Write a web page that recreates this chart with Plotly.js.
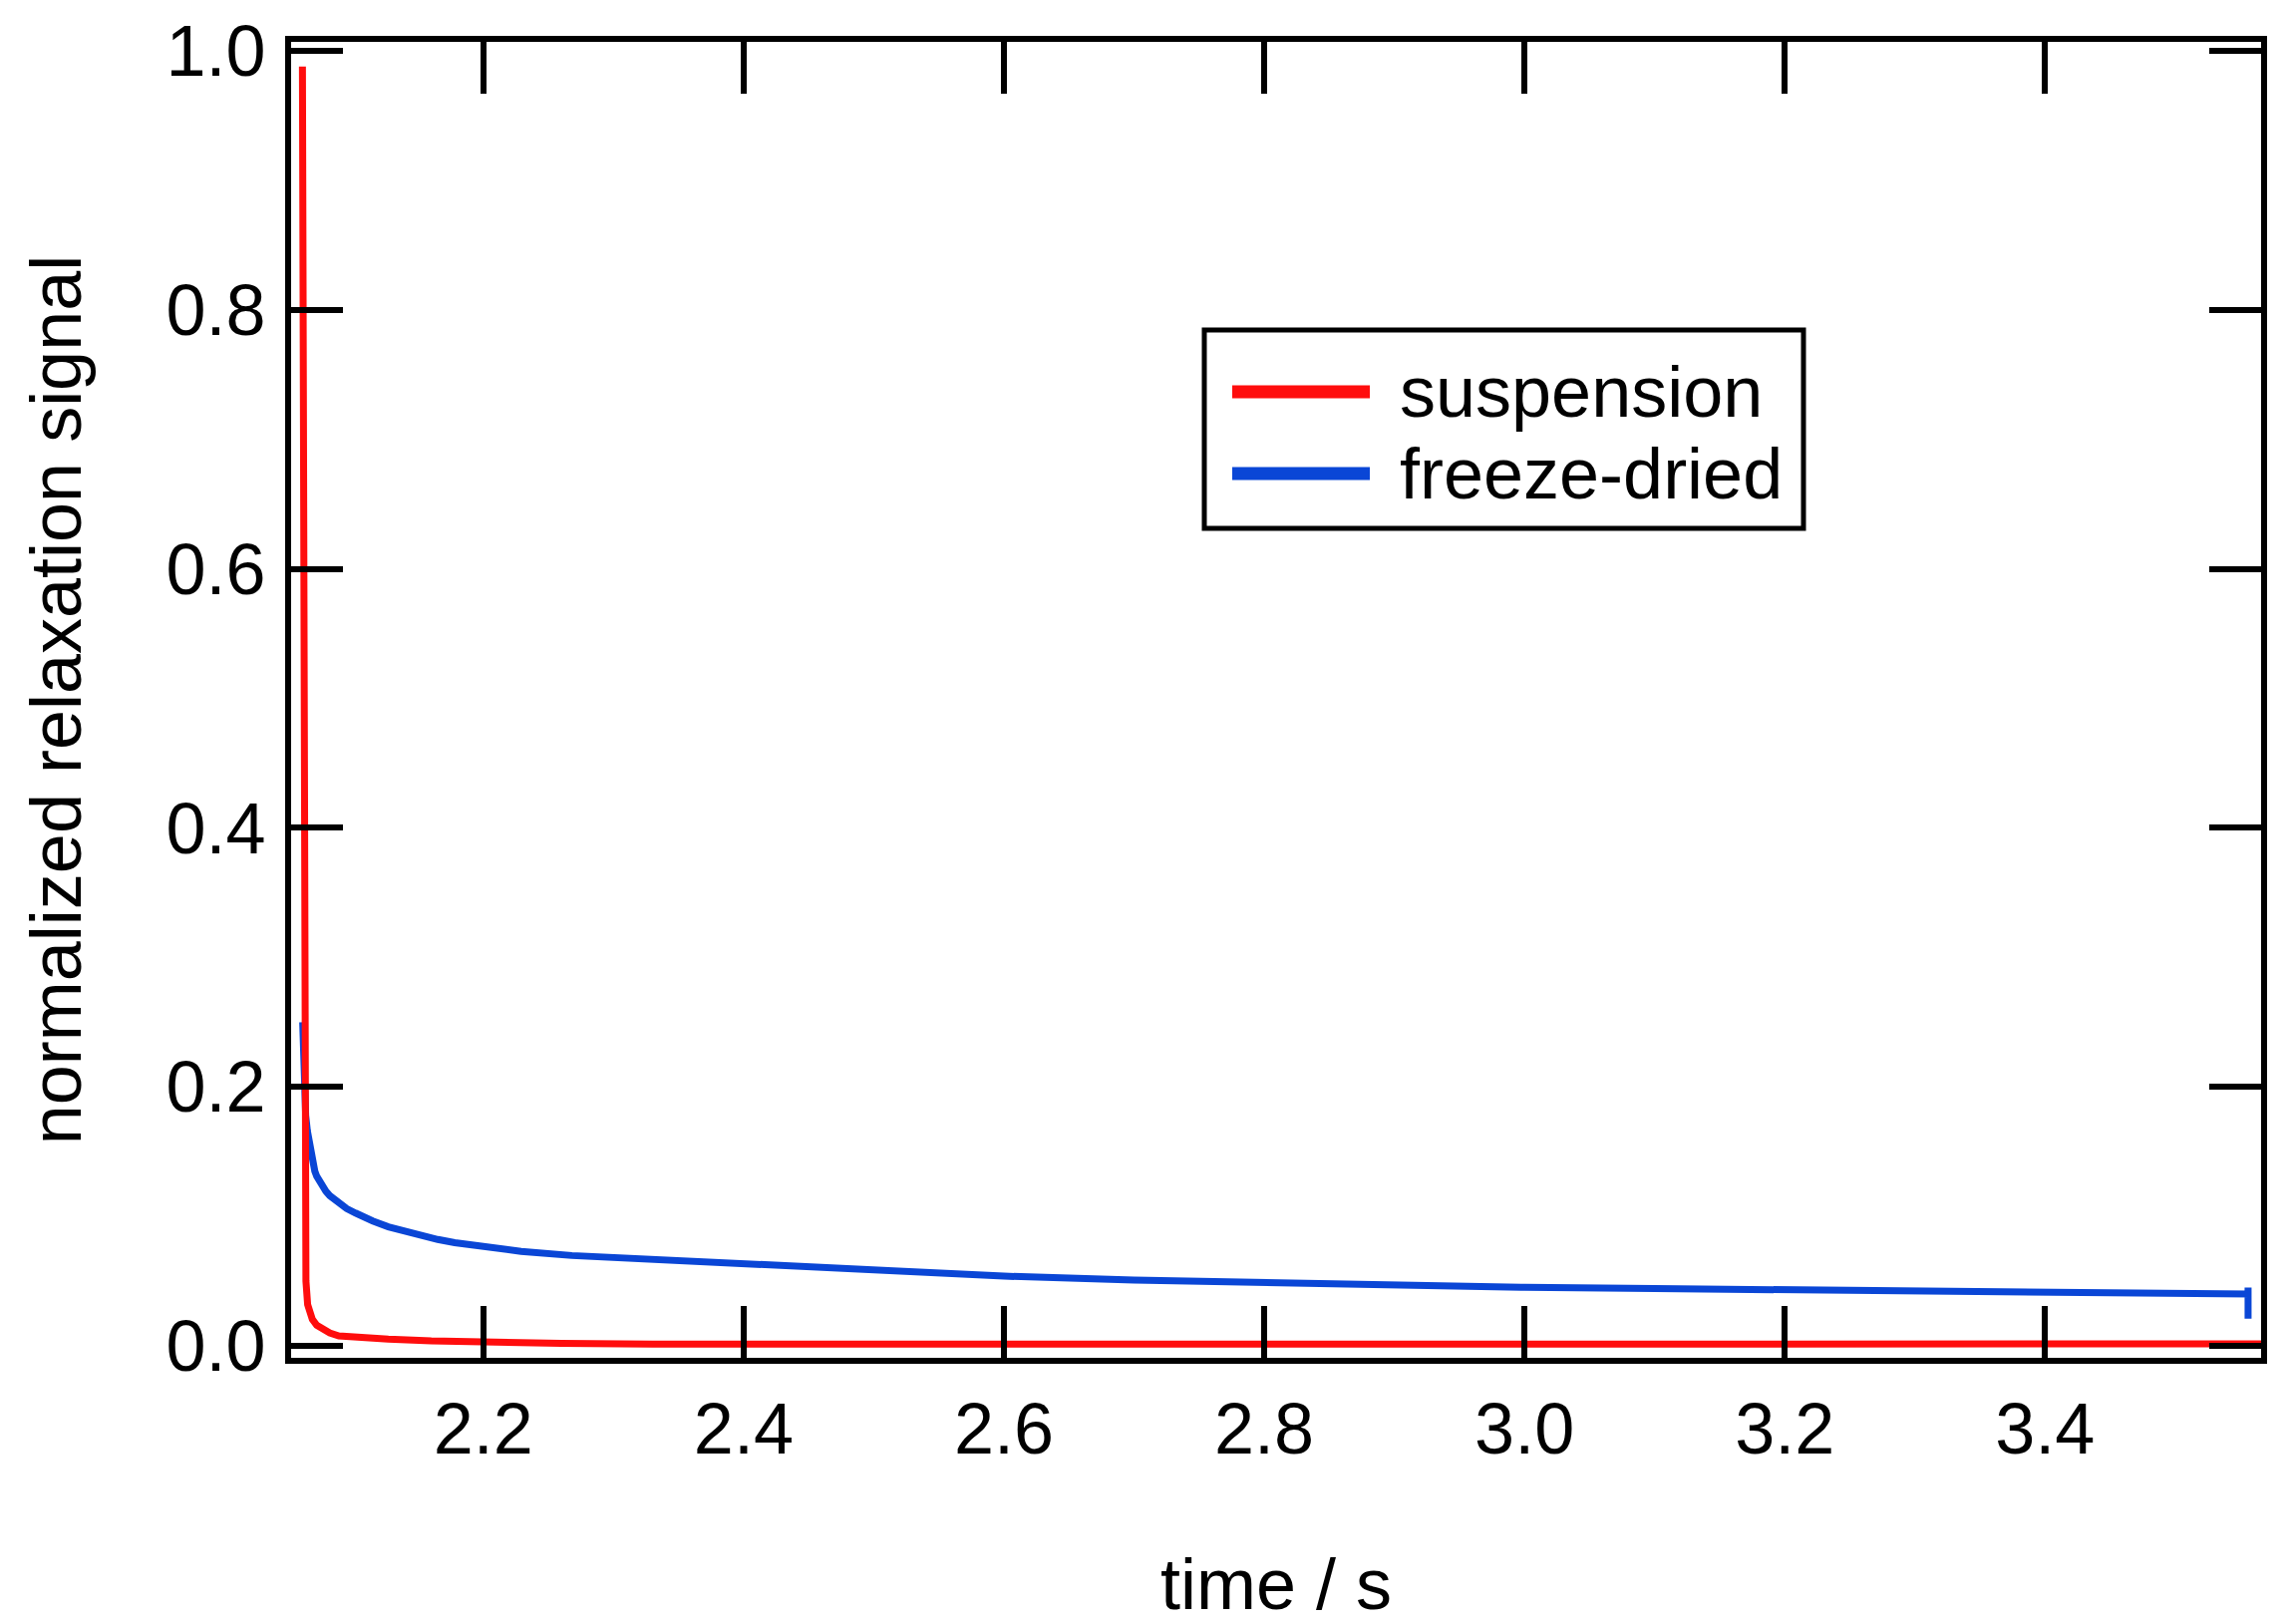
<!DOCTYPE html>
<html>
<head>
<meta charset="utf-8">
<script src="https://cdn.plot.ly/plotly-3.0.1.min.js"></script>
<style>
  html, body { margin: 0; padding: 0; background: #ffffff; }
  #chart { width: 2295px; height: 1629px; }
</style>
</head>
<body>
<div id="chart"></div>
<script>
// values
const suspensionTime = [2.0610, 2.0620, 2.0628, 2.0633, 2.0637, 2.0650, 2.0665, 2.0686, 2.0720, 2.0763,
  2.0820, 2.0890, 2.1050, 2.1270, 2.1600, 2.2000, 2.2600, 2.3300, 2.5000, 2.8000, 3.1000, 3.4000, 3.5660];
const suspensionSignal = [0.988, 0.600, 0.250, 0.100, 0.050, 0.032, 0.025, 0.0206, 0.0160, 0.0128,
  0.0100, 0.0077, 0.0062, 0.0052, 0.0038, 0.0028, 0.0020, 0.0014, 0.0013, 0.0013, 0.0014, 0.0015, 0.0015];

const freezeDriedTime = [2.0612, 2.0618, 2.0625, 2.0635, 2.0648, 2.0661, 2.0675, 2.0690, 2.0705, 2.0720,
  2.0740, 2.0763, 2.0790, 2.0820, 2.0855, 2.0890, 2.0950, 2.1018, 2.1080, 2.1150, 2.1270, 2.1400,
  2.1528, 2.1650, 2.1780, 2.2000, 2.2290, 2.2680, 2.3060, 2.3500, 2.4000, 2.5000, 2.6000, 2.7000,
  2.8000, 2.9000, 3.0000, 3.1000, 3.2000, 3.3000, 3.4000, 3.5000, 3.5560, 3.5560, 3.5560];
const freezeDriedSignal = [0.250, 0.222, 0.197, 0.178, 0.166, 0.158, 0.148, 0.140, 0.135, 0.131,
  0.127, 0.123, 0.1195, 0.116, 0.113, 0.110, 0.106, 0.1026, 0.0995, 0.0965, 0.0920, 0.0882,
  0.0850, 0.0822, 0.0797, 0.0765, 0.0730, 0.0698, 0.0680, 0.0655, 0.0629, 0.0580, 0.0539, 0.0508,
  0.0487, 0.0467, 0.0452, 0.0443, 0.0436, 0.0422, 0.0410, 0.0402, 0.0400, 0.0450, 0.0210];

const seriesNames = ['suspension', 'freeze-dried'];
const seriesColors = ['#ff0d0d', '#0a46d6'];

const xTicks = [2.2, 2.4, 2.6, 2.8, 3.0, 3.2, 3.4];
const yTicks = [0.0, 0.2, 0.4, 0.6, 0.8, 1.0];

// plot area in page pixels
const W = 2295, H = 1629;
const PLOT = { l: 292, r: 2268, t: 42, b: 1362 };
const px = (x) => (x - PLOT.l) / (PLOT.r - PLOT.l);
const py = (y) => (PLOT.b - y) / (PLOT.b - PLOT.t);

const FONT = 'Liberation Sans, Arial, Helvetica, sans-serif';

const traces = [
  {
    type: 'scatter', mode: 'lines', name: seriesNames[1],
    x: freezeDriedTime, y: freezeDriedSignal,
    line: { color: seriesColors[1], width: 7 },
    hoverinfo: 'skip', showlegend: false,
  },
  {
    type: 'scatter', mode: 'lines', name: seriesNames[0],
    x: suspensionTime, y: suspensionSignal,
    line: { color: seriesColors[0], width: 7 },
    hoverinfo: 'skip', showlegend: false,
  },
];

const axisCommon = {
  showline: true, linecolor: '#000', linewidth: 6, mirror: 'ticks',
  ticks: 'inside', ticklen: 52, tickwidth: 6, tickcolor: '#000',
  showgrid: false, zeroline: false, tickformat: '.1f',
  tickfont: { family: FONT, size: 72, color: '#000' },
  fixedrange: true,
};

// hand-made legend box, like the original
const legendBox = { x0: 1208, x1: 1809, y0: 331, y1: 530 };
const legendRows = [393, 475];
const shapes = [
  {
    type: 'rect', xref: 'paper', yref: 'paper',
    x0: px(legendBox.x0), x1: px(legendBox.x1), y0: py(legendBox.y1), y1: py(legendBox.y0),
    line: { color: '#000', width: 5 }, fillcolor: '#fff',
  },
];
const annotations = [];
seriesNames.forEach((name, i) => {
  shapes.push({
    type: 'line', xref: 'paper', yref: 'paper',
    x0: px(1236), x1: px(1374), y0: py(legendRows[i]), y1: py(legendRows[i]),
    line: { color: seriesColors[i], width: 13 },
  });
  annotations.push({
    xref: 'paper', yref: 'paper', x: px(1402), y: py(legendRows[i]),
    xanchor: 'left', yanchor: 'middle', showarrow: false,
    text: name, font: { family: FONT, size: 72, color: '#000' },
  });
});

const layout = {
  width: W, height: H,
  margin: { l: PLOT.l, r: W - PLOT.r, t: PLOT.t, b: H - PLOT.b },
  paper_bgcolor: '#fff', plot_bgcolor: '#fff',
  font: { family: FONT, size: 72, color: '#000' },
  showlegend: false,
  xaxis: {
    ...axisCommon,
    range: [2.0523, 3.566],
    tickvals: xTicks,
    ticklabelstandoff: 4,
    title: { text: 'time / s', font: { family: FONT, size: 72, color: '#000' }, standoff: 119 },
  },
  yaxis: {
    ...axisCommon,
    range: [-0.0092, 1.007],
    tickvals: yTicks,
    ticklabelstandoff: 5,
    title: { text: 'normalized relaxation signal', font: { family: FONT, size: 72, color: '#000' }, standoff: 63 },
  },
  shapes,
  annotations,
};

Plotly.newPlot('chart', traces, layout, { displayModeBar: false, staticPlot: true });
</script>
</body>
</html>
